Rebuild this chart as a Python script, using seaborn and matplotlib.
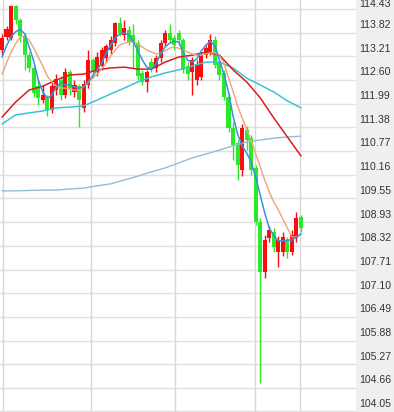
import matplotlib
matplotlib.use("Agg")
import matplotlib.pyplot as plt
import matplotlib.transforms as mtransforms
import seaborn as sns
import numpy as np
import pandas as pd

# ---------------- data ----------------
opens = [113.37, 113.71, 113.68, 114.51, 114.15, 113.73, 113.24, 112.91, 112.44, 112.08,
         112.16, 111.83, 112.34, 112.60, 112.21, 112.81, 112.29, 112.44, 111.88, 112.47,
         113.11, 112.81, 112.96, 113.17, 113.37, 113.55, 114.07, 113.76, 113.89, 113.76,
         113.55, 112.78, 112.55, 113.06, 112.91, 113.17, 113.55, 113.81, 113.68, 113.81,
         113.63, 112.96, 112.81, 112.60, 112.68, 113.24, 113.32, 113.63, 113.06, 112.78,
         112.16, 111.36, 110.97, 110.28, 111.31, 111.10, 110.33, 108.94, 107.65, 108.52,
         108.68, 108.16, 108.16, 108.47, 108.16, 108.52, 109.07]
highs = [113.79, 113.99, 114.53, 114.53, 114.20, 113.81, 113.32, 112.96, 112.60, 112.47,
         112.21, 112.55, 112.75, 112.70, 112.91, 112.86, 112.60, 112.50, 112.60, 113.37,
         113.17, 113.32, 113.45, 113.53, 113.73, 114.09, 114.22, 114.15, 113.99, 114.04,
         113.63, 112.86, 112.86, 113.17, 113.24, 113.63, 113.89, 114.04, 113.76, 113.89,
         113.68, 113.06, 113.19, 113.11, 113.32, 113.50, 113.79, 113.73, 113.11, 112.86,
         112.26, 111.52, 111.05, 111.46, 111.41, 111.18, 110.41, 109.04, 108.60, 108.83,
         108.78, 108.58, 108.68, 108.55, 108.73, 109.19, 109.12]
lows = [113.24, 113.63, 113.63, 114.04, 113.58, 112.86, 112.81, 112.16, 111.95, 112.01,
        111.67, 111.75, 112.21, 112.08, 112.13, 112.21, 112.16, 111.39, 111.77, 112.39,
        112.65, 112.70, 112.86, 113.06, 113.27, 113.48, 113.73, 113.63, 113.50, 112.91,
        112.60, 112.47, 112.29, 112.81, 112.81, 113.06, 113.48, 113.55, 113.37, 113.50,
        112.78, 112.60, 112.21, 112.47, 112.60, 113.17, 113.24, 112.91, 112.60, 112.08,
        111.26, 110.54, 110.02, 110.12, 110.79, 110.15, 108.86, 104.78, 107.49, 108.42,
        108.16, 107.78, 108.06, 108.01, 108.09, 108.42, 108.68]
closes = [113.68, 113.91, 114.51, 114.15, 113.73, 113.24, 112.91, 112.26, 112.13, 112.21,
          111.83, 112.44, 112.62, 112.21, 112.81, 112.39, 112.47, 112.08, 112.50, 113.11,
          112.81, 113.19, 113.37, 113.48, 113.63, 114.07, 113.81, 113.94, 113.58, 113.58,
          112.70, 112.55, 112.81, 112.88, 113.17, 113.55, 113.81, 113.63, 113.50, 113.63,
          112.86, 112.75, 113.11, 113.01, 113.24, 113.42, 113.63, 112.99, 112.73, 112.16,
          111.36, 110.92, 110.41, 111.36, 111.05, 110.28, 108.94, 107.65, 108.47, 108.73,
          108.29, 108.47, 108.55, 108.16, 108.60, 109.04, 108.78]

# fast moving averages, one value per candle
ma_fast = [113.19, 113.48, 113.71, 113.84, 113.91, 113.79, 113.45, 113.09, 112.60, 112.29,
           112.13, 112.21, 112.42, 112.52, 112.47, 112.47, 112.42, 112.39, 112.42, 112.55,
           112.70, 112.86, 113.04, 113.29, 113.50, 113.68, 113.79, 113.81, 113.76, 113.58,
           113.35, 113.11, 112.93, 112.88, 113.01, 113.27, 113.45, 113.55, 113.60, 113.58,
           113.32, 113.11, 113.06, 113.14, 113.35, 113.50, 113.60, 113.48, 113.11, 112.75,
           112.29, 111.67, 111.21, 110.90, 110.72, 110.48, 110.10, 109.63, 109.17, 108.78,
           108.58, 108.45, 108.45, 108.47, 108.47, 108.55, 108.63]
ma_mid = [112.75, 113.04, 113.32, 113.53, 113.71, 113.73, 113.63, 113.42, 113.19, 112.96,
          112.70, 112.55, 112.44, 112.39, 112.39, 112.37, 112.34, 112.34, 112.42, 112.52,
          112.65, 112.75, 112.88, 113.04, 113.22, 113.37, 113.50, 113.55, 113.58, 113.58,
          113.53, 113.45, 113.37, 113.32, 113.27, 113.30, 113.35, 113.42, 113.45, 113.42,
          113.37, 113.32, 113.27, 113.24, 113.24, 113.27, 113.30, 113.30, 113.22, 113.04,
          112.65, 112.31, 111.93, 111.62, 111.33, 111.05, 110.69, 110.36, 110.02, 109.71,
          109.45, 109.25, 109.01, 108.78, 108.55, 108.55, 108.63]

# slow moving averages, read every third candle
slow_idx = list(range(0, 67, 3))
ma_red = [111.64, 112.03, 112.34, 112.44, 112.60, 112.73, 112.75, 112.86, 112.91, 112.93,
          112.88, 112.88, 113.06, 113.19, 113.24, 113.32, 113.24, 112.86, 112.55, 112.14,
          111.62, 111.13, 110.64]
ma_cyan = [111.46, 111.70, 111.75, 111.80, 111.88, 111.90, 111.93, 112.08, 112.24, 112.39,
           112.55, 112.68, 112.78, 112.86, 112.96, 113.06, 113.06, 112.91, 112.65, 112.47,
           112.29, 112.06, 111.88]
ma_long = [109.74, 109.74, 109.75, 109.76, 109.76, 109.79, 109.81, 109.87, 109.92, 110.02,
           110.12, 110.23, 110.33, 110.46, 110.59, 110.69, 110.79, 110.90, 111.00, 111.05,
           111.10, 111.13, 111.15]

ytick_vals = [114.43, 113.82, 113.21, 112.60, 111.99, 111.38, 110.77, 110.16, 109.55,
              108.93, 108.32, 107.71, 107.10, 106.49, 105.88, 105.27, 104.66, 104.05]
day_breaks = [0.2, 19.6, 38.2, 55.8, 65.8]

# ---------------- plot ----------------
sns.set_theme(style="white")
W, H = 394, 412
fig = plt.figure(figsize=(W / 100, H / 100), dpi=100)
fig.patch.set_facecolor("#efefef")
ax = fig.add_axes([0, 0, 356 / W, 1])
ax.set_facecolor("white")

n = len(opens)
idx = np.arange(n)
df = pd.DataFrame({"i": idx, "open": opens, "high": highs, "low": lows, "close": closes})
up = df["close"] >= df["open"]
col = np.where(up, "#fb0d0d", "#2be82b")

for v in ytick_vals:
    ax.axhline(v, color="#e0e0e0", lw=1.0, zorder=0)
for b in day_breaks:
    ax.axvline(b, color="#d8d8d8", lw=1.0, zorder=0)

ax.vlines(df["i"], df["low"], df["high"], colors=col, lw=1.0, zorder=2)
bottom = np.minimum(df["open"], df["close"])
height = np.maximum(np.abs(df["close"] - df["open"]), 0.03)
ax.bar(df["i"], height, bottom=bottom, width=0.9, color=col, edgecolor=col, lw=0, zorder=3)

sns.lineplot(x=slow_idx, y=ma_long, ax=ax, color="#94bcd8", lw=1.0, zorder=4)
sns.lineplot(x=slow_idx, y=ma_cyan, ax=ax, color="#39c4d6", lw=1.1, zorder=4)
sns.lineplot(x=slow_idx, y=ma_red, ax=ax, color="#d81e1e", lw=1.1, zorder=4)
sns.lineplot(x=idx, y=ma_mid, ax=ax, color="#eba57a", lw=1.0, zorder=5)
sns.lineplot(x=idx, y=ma_fast, ax=ax, color="#3b8fe3", lw=1.1, zorder=6)

xmin = -2 / 4.53
ax.set_xlim(xmin, xmin + 356 / 4.53)
ax.set_ylim(104.037, 114.662)
ax.set_xticks([])
ax.set_yticks([])
for s in ax.spines.values():
    s.set_visible(False)

base = mtransforms.blended_transform_factory(ax.transAxes, ax.transData)
for k, v in enumerate(ytick_vals):
    off = 4.5 if k == 0 else 7.5
    trans = mtransforms.offset_copy(base, fig=fig, x=0, y=off, units="dots")
    ax.text(1.0 + 3 / 356, v, f"{v:.2f}", transform=trans, ha="left", va="center",
            fontsize=7.6, color="#333333", family="Liberation Sans", clip_on=False)

fig.savefig("out.png", dpi=100, facecolor=fig.get_facecolor())
